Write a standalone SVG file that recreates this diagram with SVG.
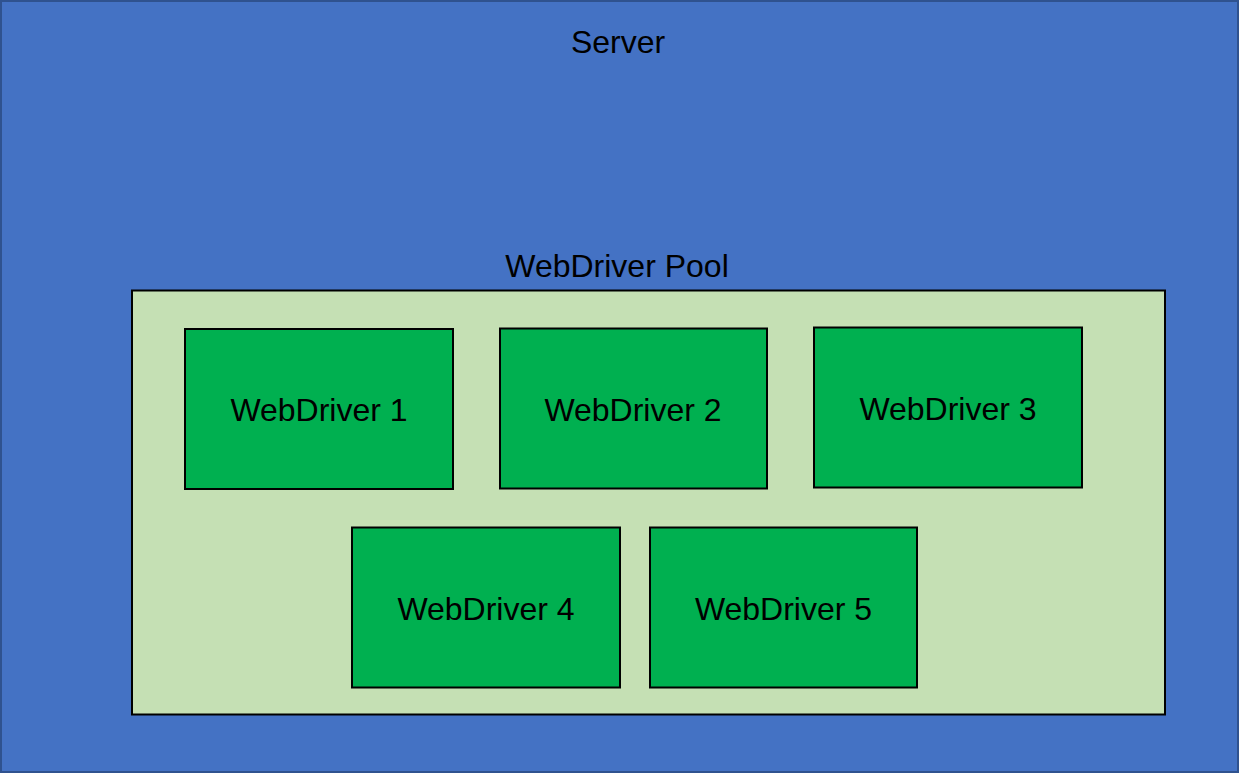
<svg xmlns="http://www.w3.org/2000/svg" width="1240" height="774" viewBox="0 0 1240 774">
<style>
.lbl{font-family:"Liberation Sans",Arial,sans-serif;font-size:32px;fill:#000;text-anchor:middle}
.wd{fill:#00B050;stroke:#000;stroke-width:2}
</style>
<g id="server">
<rect x="1" y="1" width="1237" height="771" fill="#4472C4" stroke="#2F528F" stroke-width="2"/>
<text class="lbl" x="618" y="53">Server</text>
</g>
<g id="pool">
<text class="lbl" x="617" y="277">WebDriver Pool</text>
<rect x="132" y="290.5" width="1033" height="424" fill="#C5E0B4" stroke="#000" stroke-width="2"/>
</g>
<g id="wd1">
<rect class="wd" x="185" y="329" width="268" height="160"/>
<text class="lbl" x="319" y="421">WebDriver 1</text>
</g>
<g id="wd2">
<rect class="wd" x="500" y="328.5" width="267" height="160"/>
<text class="lbl" x="633" y="421">WebDriver 2</text>
</g>
<g id="wd3">
<rect class="wd" x="814" y="327.5" width="268" height="160"/>
<text class="lbl" x="948" y="420">WebDriver 3</text>
</g>
<g id="wd4">
<rect class="wd" x="352" y="527.5" width="268" height="160"/>
<text class="lbl" x="486" y="620">WebDriver 4</text>
</g>
<g id="wd5">
<rect class="wd" x="650" y="527.5" width="267" height="160"/>
<text class="lbl" x="783.5" y="620">WebDriver 5</text>
</g>
<g id="connectors"></g>
</svg>
